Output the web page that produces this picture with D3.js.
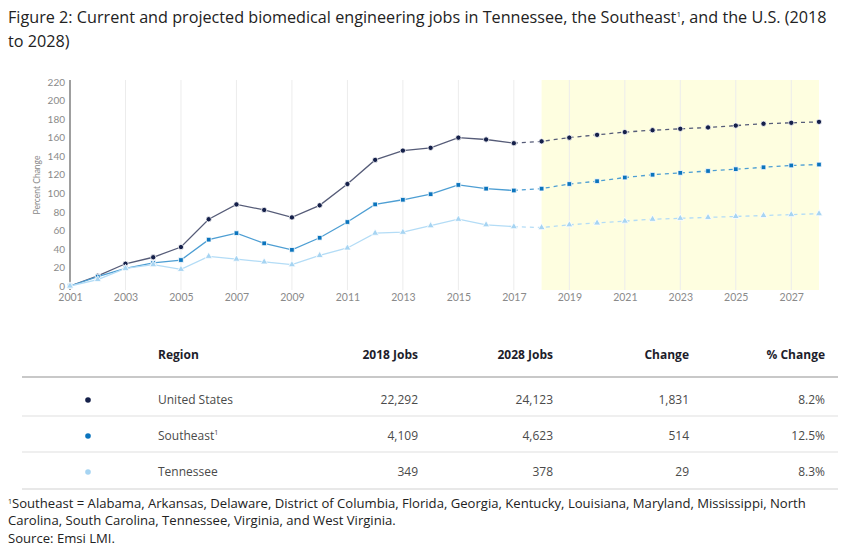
<!DOCTYPE html>
<html><head><meta charset="utf-8">
<script src="https://cdn.jsdelivr.net/npm/d3@7"></script>
<style>body{margin:0;background:#fff}svg{display:block}</style>
</head><body>
<svg id="c" width="860" height="558"></svg>
<script>
const years = d3.range(2001, 2029);
const usValues = [0,11,24,31,42,72,88,82,74,87,110,136,146,149,160,158,154,156,160,163,166,168,169.5,171,173,175,176,177];
const seValues = [0,10,19,25,28,50,57,46,39,52,69,88,93,99,109,105,103,105,110,113,117,120,122,124,126,128,130,131];
const tnValues = [0,7,19,23,18,32,29,26,23,33,41,57,58,65,72,66,64,63,66,68,70,72,73,74,75,76,77,78];
const yTicks = d3.range(0, 221, 20);
const xTicks = d3.range(2001, 2028, 2);
const projStart = 2018, lastActual = 2017;
const tableHeader = ["Region","2018 Jobs","2028 Jobs","Change","% Change"];
const regions = ["United States","Southeast","Tennessee"];
const jobs2018 = ["22,292","4,109","349"];
const jobs2028 = ["24,123","4,623","378"];
const changes = ["1,831","514","29"];
const pctChanges = ["8.2%","12.5%","8.3%"];

const svg = d3.select("#c");
const FONT = "Lato, 'Open Sans', sans-serif";
const TFONT = "'Open Sans', Lato, sans-serif";
const x = d3.scaleLinear().domain([2001, 2028]).range([70, 819]);
const y = d3.scaleLinear().domain([0, 220]).range([286, 82]);
const colors = {us:{line:"#565c78", mark:"#15204a"}, se:{line:"#4d9ed3", mark:"#0b74bd"}, tn:{line:"#b3dcf6", mark:"#a6d4f2"}};

// title
const title = svg.append("text").attr("font-family", TFONT).attr("font-size", 16.2).attr("fill", "#222");
title.append("tspan").attr("x", 8).attr("y", 23).text("Figure 2: Current and projected biomedical engineering jobs in Tennessee, the Southeast");
title.append("tspan").attr("font-size", 8).attr("dy", -6).text("1");
title.append("tspan").attr("dy", 6).text(", and the U.S. (2018");
svg.append("text").attr("font-family", TFONT).attr("font-size", 16.2).attr("fill", "#222").attr("x", 8).attr("y", 47).text("to 2028)");

// shade
svg.append("rect").attr("x", x(projStart)).attr("y", 80).attr("width", x(2028) - x(projStart)).attr("height", 210).attr("fill", "#fefee0");

// vertical gridlines
svg.append("g").selectAll("line").data(xTicks.filter(d => d > 2001)).join("line")
  .attr("x1", d => x(d)).attr("x2", d => x(d)).attr("y1", 80).attr("y2", 290)
  .attr("stroke", "#ececec").attr("stroke-width", 1);

// y axis
const yAxis = svg.append("g").attr("transform", `translate(${x(2001)},0)`)
  .call(d3.axisLeft(y).tickValues(yTicks).tickSize(0).tickPadding(5));
yAxis.select(".domain").remove();
yAxis.selectAll("text").attr("font-family", FONT).attr("font-size", 10).attr("fill", "#8a8a8a");
svg.append("line").attr("x1", x(2001)).attr("x2", x(2001)).attr("y1", 80).attr("y2", 290).attr("stroke", "#6b6b6b").attr("stroke-width", 1.3);

// x axis
const xAxis = svg.append("g").attr("transform", `translate(0,290)`)
  .call(d3.axisBottom(x).tickValues(xTicks).tickFormat(d3.format("d")).tickSize(0).tickPadding(4));
xAxis.select(".domain").remove();
xAxis.selectAll("text").attr("font-family", FONT).attr("font-size", 10.5).attr("fill", "#8a8a8a");

svg.append("text").attr("transform", `translate(40,185) rotate(-90)`).attr("text-anchor", "middle")
  .attr("font-family", FONT).attr("font-size", 8.5).attr("fill", "#888").text("Percent Change");

// series
const series = [
  {key:"us", values: usValues, shape: d3.symbolCircle, size: 22},
  {key:"se", values: seValues, shape: d3.symbolSquare, size: 22},
  {key:"tn", values: tnValues, shape: d3.symbolTriangle, size: 22}
];
const line = d3.line().x(d => x(d.year)).y(d => y(d.v));
series.forEach(s => {
  const pts = years.map((yr, i) => ({year: yr, v: s.values[i]}));
  const actual = pts.filter(p => p.year <= lastActual);
  const proj = pts.filter(p => p.year >= lastActual);
  svg.append("path").attr("d", line(actual)).attr("fill", "none").attr("stroke", colors[s.key].line).attr("stroke-width", 1.3);
  svg.append("path").attr("d", line(proj)).attr("fill", "none").attr("stroke", colors[s.key].line).attr("stroke-width", 1.3).attr("stroke-dasharray", "4,4");
  svg.append("g").selectAll("path").data(pts).join("path")
    .attr("transform", p => `translate(${x(p.year)},${y(p.v)})`)
    .attr("d", d3.symbol().type(s.shape).size(s.size))
    .attr("fill", colors[s.key].mark).attr("stroke", "#fff").attr("stroke-width", 0.8);
});

// table
const colX = [158, 418, 553, 689, 825];
const hdr = svg.append("g").attr("font-family", TFONT).attr("font-size", 12).attr("font-weight", "bold").attr("fill", "#1d1d2b");
tableHeader.forEach((h, i) => {
  hdr.append("text").attr("x", colX[i]).attr("y", 359).attr("text-anchor", i === 0 ? "start" : "end").text(h);
});
svg.append("line").attr("x1", 22).attr("x2", 838).attr("y1", 377).attr("y2", 377).attr("stroke", "#c8c8c8").attr("stroke-width", 2);
const rowY = [404, 440, 476];
const keys = ["us","se","tn"];
const cols = [regions, jobs2018, jobs2028, changes, pctChanges];
rowY.forEach((ry, r) => {
  svg.append("circle").attr("cx", 88).attr("cy", ry - 4).attr("r", 2.8).attr("fill", colors[keys[r]].mark);
  cols.forEach((c, i) => {
    const t = svg.append("text").attr("x", colX[i]).attr("y", ry).attr("text-anchor", i === 0 ? "start" : "end")
      .attr("font-family", TFONT).attr("font-size", 12).attr("fill", "#4a4a4a").text(c[r]);
    if (i === 0 && r === 1) t.append("tspan").attr("font-size", 7).attr("dy", -5).text("1");
  });
  if (r < 2) svg.append("line").attr("x1", 22).attr("x2", 838).attr("y1", ry + 12).attr("y2", ry + 12).attr("stroke", "#efefef").attr("stroke-width", 2);
});
svg.append("line").attr("x1", 22).attr("x2", 838).attr("y1", 489).attr("y2", 489).attr("stroke", "#e0e0e0").attr("stroke-width", 1.5);

// footnote
const fn = svg.append("g").attr("font-family", TFONT).attr("font-size", 13.1).attr("fill", "#222");
const f1 = fn.append("text").attr("x", 8).attr("y", 508);
f1.append("tspan").attr("font-size", 7).attr("dy", -4).text("1");
f1.append("tspan").attr("dy", 4).text("Southeast = Alabama, Arkansas, Delaware, District of Columbia, Florida, Georgia, Kentucky, Louisiana, Maryland, Mississippi, North");
fn.append("text").attr("x", 8).attr("y", 525).text("Carolina, South Carolina, Tennessee, Virginia, and West Virginia.");
fn.append("text").attr("x", 8).attr("y", 543).text("Source: Emsi LMI.");
</script>
</body></html>
